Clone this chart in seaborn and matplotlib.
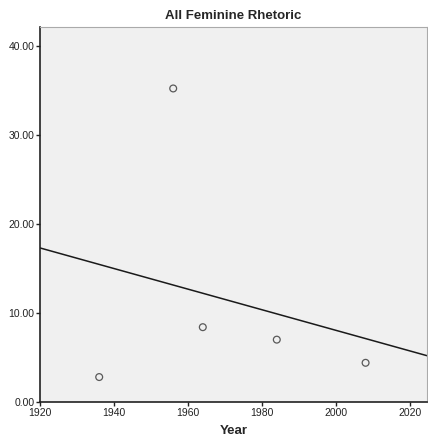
import matplotlib
matplotlib.use("Agg")
import matplotlib.pyplot as plt
import seaborn as sns
import pandas as pd
from matplotlib.ticker import FormatStrFormatter

years = [1936, 1956, 1964, 1984, 2008]
values = [2.8, 35.2, 8.4, 7.0, 4.4]
x_ticks = [1920, 1940, 1960, 1980, 2000, 2020]
y_ticks = [0, 10, 20, 30, 40]

df = pd.DataFrame({"Year": years, "Value": values})

sns.set_style("white")
plt.rcParams['font.family'] = ['Liberation Sans', 'DejaVu Sans']

fig = plt.figure(figsize=(4.28, 4.46), dpi=100)
ax = fig.add_axes([40/428, 44/446, 387/428, 375/446])
ax.set_facecolor("#F0F0F0")
ax.set_xlim(1920, 2024.6)
ax.set_ylim(0, 42.1)

sns.regplot(data=df, x="Year", y="Value", ci=None, truncate=False, ax=ax,
            scatter_kws=dict(s=24, facecolors="none", edgecolors="#333333", linewidths=0.9),
            line_kws=dict(color="#1a1a1a", linewidth=1.1))
ax.set_xlim(1920, 2024.6)
ax.set_ylim(0, 42.1)

ax.set_xticks(x_ticks)
ax.set_yticks(y_ticks)
ax.yaxis.set_major_formatter(FormatStrFormatter("%.2f"))
ax.tick_params(axis="both", labelsize=7.5, length=3, width=1, color="#222222",
               direction="out", pad=1, labelcolor="#222222")
ax.tick_params(axis="x", bottom=True)
ax.tick_params(axis="y", left=True)

for s in ["left", "bottom"]:
    ax.spines[s].set_color("#222222")
    ax.spines[s].set_linewidth(1.2)
for s in ["top", "right"]:
    ax.spines[s].set_color("#aaaaaa")
    ax.spines[s].set_linewidth(0.8)

ax.set_ylabel("")
ax.set_xlabel("Year", fontsize=9.5, fontweight="bold", labelpad=5)
ax.set_title("All Feminine Rhetoric", fontsize=9.5, fontweight="bold", pad=6)

fig.savefig("out.png", dpi=100)
